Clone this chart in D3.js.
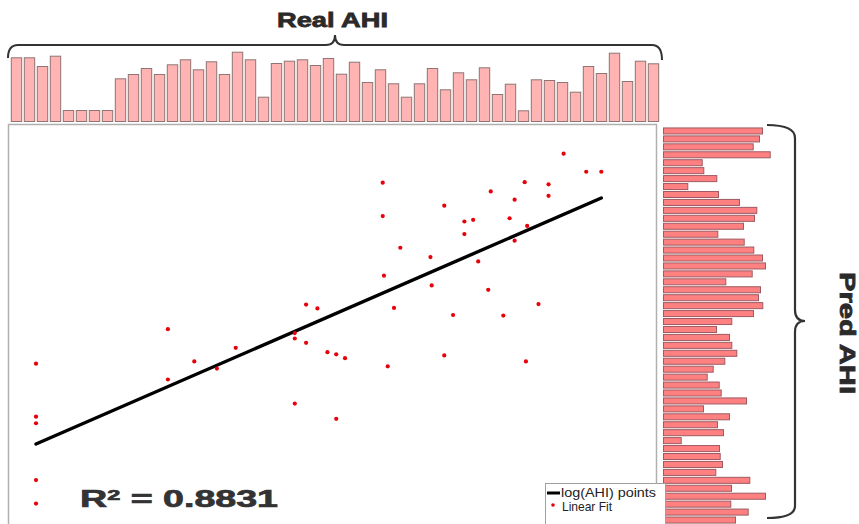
<!DOCTYPE html>
<html>
<head>
<meta charset="utf-8">
<script src="https://cdn.jsdelivr.net/npm/d3@7"></script>
<style>
    body { margin: 0; background: #fff; }
    svg { display: block; font-family: "Liberation Sans", Arial, sans-serif; }
</style>
</head>
<body>
<svg id="chart" width="859" height="524"></svg>
<script>

// bar heights of the marginal histograms (arbitrary units)
var realAHI = [63.7, 63.7, 55, 65.3, 11, 11, 11, 11, 42.7, 47,
               53, 47, 56.7, 61.7, 51.7, 59.7, 47, 69.3, 61.7, 24.3,
               58, 60.3, 61.7, 56, 63, 47.3, 59.3, 39, 51.7, 37.7,
               24.3, 37.7, 53, 31.7, 48.7, 41.7, 53.7, 27, 37.3, 10.7,
               41.7, 41, 39, 29.3, 55, 48, 68.3, 40, 60.3, 57.7];

var predAHI = [99, 96, 89.7, 106.7, 38.7, 40.3, 53.3, 24.3, 55, 76,
               93.3, 91, 80, 54.3, 80.7, 90.3, 99, 102, 88.7, 62.3,
               97, 95, 99.3, 90, 68.3, 53, 66, 68.3, 73.3, 61.3,
               49.7, 43.7, 55.7, 57.7, 83, 40, 66, 54, 60, 17.7,
               56, 56.7, 59, 52.3, 86.3, 68, 102, 67.3, 84.7, 72];

// scatter points: log(AHI) real (x) vs predicted (y)
var pointsX = [2.76, 4.20, 4.38, 4.50, 3.89, 4.08, 4.08, 3.62, 3.81, 3.25,
               2.76, 3.41, 3.48, 3.77, 3.91, 3.41, 3.81, 2.90, 3.14, 3.52,
               2.77, 3.15, 3.60, 2.85, 4.00, 3.32, 3.72, 2.15, 2.24, 1.05,
               0.00, 1.26, 1.59, 1.44, 1.05, 2.06, 2.06, 2.15, 2.32, 0.00,
               0.00, 2.06, 0.00, 2.39, 2.46, 2.80, 3.25, 3.90, 2.39, 0.00];
var pointsY = [4.78, 5.31, 4.98, 4.98, 4.79, 4.75, 4.54, 4.62, 4.47, 4.36,
               4.17, 4.07, 4.10, 4.13, 3.99, 3.84, 3.72, 3.59, 3.42, 3.34,
               3.08, 2.90, 2.82, 2.49, 2.56, 2.36, 2.35, 2.55, 2.48, 2.10,
               1.47, 1.51, 1.76, 1.38, 1.18, 2.03, 1.93, 1.85, 1.68, 0.50,
               0.38, 0.74, -0.66, 1.64, 1.57, 1.42, 1.62, 1.51, 0.46, -1.09];

// fitted line y = intercept + slope * x over the x range
var fitX = [0, 4.5];
var fitSlope = 1.0, fitIntercept = 0.0;
var rSquared = "0.8831";

var svg = d3.select("#chart");

// ---- top histogram (Real AHI)
var xBand = d3.scaleBand().domain(d3.range(realAHI.length)).range([10, 660])
    .paddingInner(0.2).paddingOuter(0.1);
var hTop = d3.scaleLinear().domain([0, 70]).range([0, 70]);
var topBase = 121.5;

svg.append("g").selectAll("rect")
    .data(realAHI)
    .join("rect")
    .attr("x", (d, i) => xBand(i))
    .attr("y", d => topBase - hTop(d))
    .attr("width", xBand.bandwidth())
    .attr("height", d => hTop(d))
    .attr("fill", "#ffb3b3")
    .attr("stroke", "#8f7474")
    .attr("stroke-width", 1);

// ---- right histogram (Pred AHI)
var yBand = d3.scaleBand().domain(d3.range(predAHI.length)).range([127, 524])
    .paddingInner(0.24).paddingOuter(0.12);
var wRight = d3.scaleLinear().domain([0, 110]).range([0, 110]);
var rightBase = 663.5;

svg.append("g").selectAll("rect")
    .data(predAHI)
    .join("rect")
    .attr("x", rightBase)
    .attr("y", (d, i) => yBand(i))
    .attr("width", d => wRight(d))
    .attr("height", yBand.bandwidth())
    .attr("fill", "#ff8080")
    .attr("stroke", "#9e5a62")
    .attr("stroke-width", 1);

// ---- main scatter frame
svg.append("rect")
    .attr("x", 8.5).attr("y", 124.5)
    .attr("width", 648).attr("height", 420)
    .attr("fill", "#fff")
    .attr("stroke", "#b0b0b0")
    .attr("stroke-width", 1.5);

var xScale = d3.scaleLinear().domain([0, 4.5]).range([36, 601.3]);
var yScale = d3.scaleLinear().domain([0, 4.5]).range([444, 198]);

var line = d3.line()
    .x(d => xScale(d))
    .y(d => yScale(fitIntercept + fitSlope * d));

svg.append("path")
    .attr("d", line(fitX))
    .attr("fill", "none")
    .attr("stroke", "#000")
    .attr("stroke-width", 3.4)
    .attr("stroke-linecap", "round");

svg.append("g").selectAll("circle")
    .data(pointsX)
    .join("circle")
    .attr("cx", d => xScale(d))
    .attr("cy", (d, i) => yScale(pointsY[i]))
    .attr("r", 2.1)
    .attr("fill", "#e8000b");

// ---- brackets
svg.append("path")
    .attr("d", "M8,58 Q8,45 18,45 L326,45 Q335,45 335,35 Q335,45 344,45 L652,45 Q662,45 662,60")
    .attr("fill", "none")
    .attr("stroke", "#333")
    .attr("stroke-width", 2);

svg.append("path")
    .attr("d", "M767,125 Q795,125 795,138 L795,310 Q795,321 805,321 Q795,321 795,332 L795,506 Q795,518 767,518")
    .attr("fill", "none")
    .attr("stroke", "#333")
    .attr("stroke-width", 2.2);

// ---- titles (extra stroke to get the heavy look of the original)
svg.append("text")
    .attr("x", 277).attr("y", 27)
    .attr("font-size", 21).attr("font-weight", "bold")
    .attr("fill", "#2a2a2a")
    .attr("stroke", "#2a2a2a").attr("stroke-width", 0.8)
    .attr("textLength", 111).attr("lengthAdjust", "spacingAndGlyphs")
    .text("Real AHI");

svg.append("text")
    .attr("transform", "translate(840,272) rotate(90)")
    .attr("font-size", 22).attr("font-weight", "bold")
    .attr("fill", "#2a2a2a")
    .attr("stroke", "#2a2a2a").attr("stroke-width", 0.8)
    .attr("textLength", 122).attr("lengthAdjust", "spacingAndGlyphs")
    .text("Pred AHI");

var r2 = svg.append("text")
    .attr("x", 80).attr("y", 507)
    .attr("font-size", 24).attr("font-weight", "bold")
    .attr("fill", "#333")
    .attr("stroke", "#333").attr("stroke-width", 0.7)
    .attr("textLength", 198).attr("lengthAdjust", "spacingAndGlyphs");
r2.append("tspan").text("R");
r2.append("tspan").attr("font-size", 15).attr("dy", -7.5).text("2");
r2.append("tspan").attr("dy", 7.5).text(" = " + rSquared);

// ---- legend
var legend = svg.append("g");
legend.append("rect")
    .attr("x", 545.5).attr("y", 483.5)
    .attr("width", 120).attr("height", 60)
    .attr("fill", "#fff")
    .attr("stroke", "#a0a0a0");
legend.append("line")
    .attr("x1", 547).attr("x2", 560).attr("y1", 493).attr("y2", 493)
    .attr("stroke", "#000").attr("stroke-width", 3);
legend.append("text")
    .attr("x", 561).attr("y", 497)
    .attr("font-size", 13).attr("fill", "#222")
    .attr("textLength", 95).attr("lengthAdjust", "spacingAndGlyphs")
    .text("log(AHI) points");
legend.append("circle")
    .attr("cx", 553).attr("cy", 505).attr("r", 1.8)
    .attr("fill", "#e8000b");
legend.append("text")
    .attr("x", 562).attr("y", 511)
    .attr("font-size", 13).attr("fill", "#222")
    .attr("textLength", 50).attr("lengthAdjust", "spacingAndGlyphs")
    .text("Linear Fit");

</script>
</body>
</html>
